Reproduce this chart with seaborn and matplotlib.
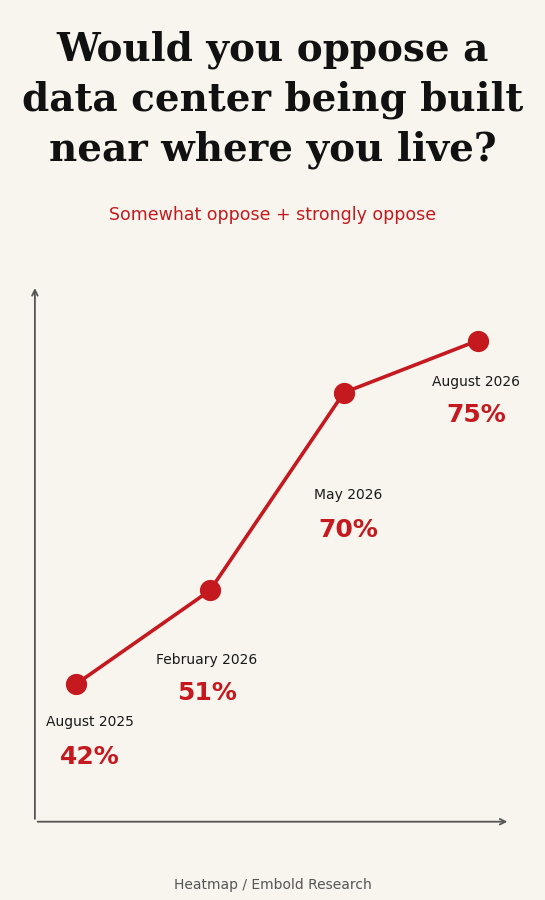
import matplotlib
matplotlib.use('Agg')
import matplotlib.pyplot as plt
import seaborn as sns
import pandas as pd

periods = ['August 2025', 'February 2026', 'May 2026', 'August 2026']
oppose_pct = [42, 51, 70, 75]
# label offsets in px (dx, dy of date label, dy of pct label)
offsets = [(14, 38, 73), (-3, 70, 103), (4, 102, 137), (-2, 41, 74)]

bg = '#f8f5ee'
red = '#c41a1f'

sns.set_style('white')
plt.rcParams['font.family'] = ['DejaVu Sans']

fig = plt.figure(figsize=(5.45, 9), dpi=100, facecolor=bg)
ax = fig.add_axes([0.064, 0.087, 0.872, 0.596])
ax.set_facecolor(bg)

df = pd.DataFrame({'x': range(len(periods)), 'pct': oppose_pct})
sns.lineplot(data=df, x='x', y='pct', ax=ax, color=red, lw=2.6)
sns.scatterplot(data=df, x='x', y='pct', ax=ax, color=red, s=200, edgecolor=red, zorder=3)

ax.set_xlim(-0.306, 3.24)
ax.set_ylim(28.8, 80.3)
for s in ['top', 'right', 'left', 'bottom']:
    ax.spines[s].set_visible(False)
ax.set_xticks([]); ax.set_yticks([])
ax.set_xlabel(''); ax.set_ylabel('')
ax.annotate('', xy=(0, 1.0), xytext=(0, 0), xycoords='axes fraction',
            arrowprops=dict(arrowstyle='->', color='#555555', lw=1.3))
ax.annotate('', xy=(1.0, 0), xytext=(0, 0), xycoords='axes fraction',
            arrowprops=dict(arrowstyle='->', color='#555555', lw=1.3))

for i, (lab, v) in enumerate(zip(periods, oppose_pct)):
    dx, dy1, dy2 = offsets[i]
    ax.annotate(lab, (i, v), xytext=(dx * 0.72, -dy1 * 0.72), textcoords='offset points',
                ha='center', va='center', fontsize=10, fontweight='medium', color='#1a1a1a')
    ax.annotate(f'{v}%', (i, v), xytext=(dx * 0.72, -dy2 * 0.72), textcoords='offset points',
                ha='center', va='center', fontsize=18, fontweight='bold', color=red)

fig.text(0.5, 1 - 100 / 900, 'Would you oppose a\ndata center being built\nnear where you live?',
         ha='center', va='center', fontsize=28, fontweight='bold', family='DejaVu Serif',
         linespacing=1.38, color='#111111')
fig.text(0.5, 1 - 215 / 900, 'Somewhat oppose + strongly oppose', ha='center', va='center',
         fontsize=12.5, color=red)
fig.text(0.5, 1 - 885 / 900, 'Heatmap / Embold Research', ha='center', va='center',
         fontsize=10, color='#555555')

fig.savefig('out.png', dpi=100, facecolor=bg)
